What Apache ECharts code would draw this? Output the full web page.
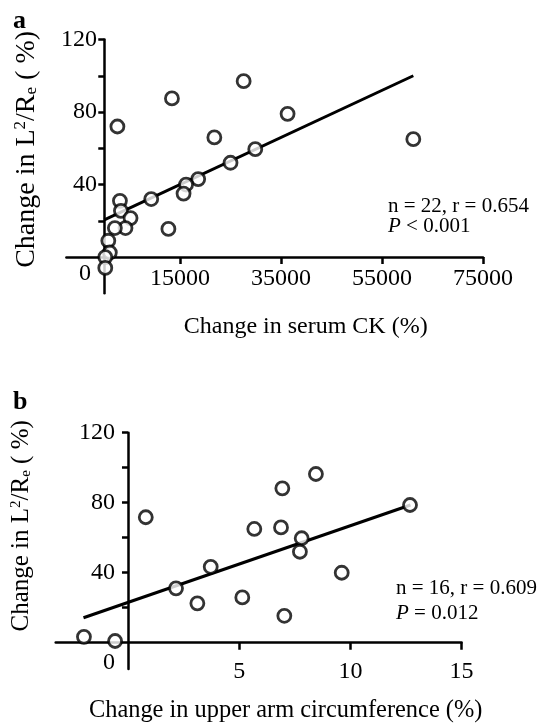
<!DOCTYPE html>
<html>
<head>
<meta charset="utf-8">
<script src="https://cdn.jsdelivr.net/npm/echarts@6/dist/echarts.min.js"></script>
<style>
html,body{margin:0;padding:0;background:#fff;}
#chart{width:539px;height:724px;}
</style>
</head>
<body>
<div id="chart"></div>
<script>
// Panel a: change in serum CK (%) vs change in L2/Re (%)
var ckX = [27600, 13400, 2600, 36300, 21800, 61200, 29900, 25000, 18600, 16200, 15700, 9300, 3100, 3300, 5200, 4200, 2100, 12700, 800, 1100, 200, 200];
var ckY = [97, 87.5, 72, 79, 66, 65, 59.5, 52, 43, 40, 35, 32, 31, 25.5, 21.5, 16, 16, 15.5, 9, 2.5, 0, -6];
var fitAX = [0, 61200];
var fitAY = [20.5, 100];
var ticksAX = [15000, 35000, 55000, 75000];
var ticksAY = [20, 40, 60, 80, 100, 120];
var labelsAY = [0, 40, 80, 120];

// Panel b: change in upper arm circumference (%) vs change in L2/Re (%)
var armX = [-1.98, -0.58, 0.80, 2.16, 3.12, 3.72, 5.14, 5.68, 6.88, 6.94, 7.03, 8.45, 7.81, 7.73, 9.61, 12.68];
var armY = [3.4, 1.0, 71.7, 31.1, 22.5, 43.4, 25.9, 65.0, 65.9, 88.2, 15.4, 96.4, 59.7, 52.0, 40.0, 78.7];
var fitBX = [-2.0, 12.7];
var fitBY = [14.3, 78.7];
var ticksBX = [5, 10, 15];
var ticksBY = [20, 40, 60, 80, 100, 120];
var labelsBY = [0, 40, 80, 120];

var FONT = '"Liberation Serif", "Times New Roman", serif';

function pairs(xs, ys) { return xs.map(function (x, i) { return [x, ys[i]]; }); }

var yName = 'Change in L{sup|2}/R{sub|e} ( %)';
function yNameStyle(size, shift) {
  return {
    fontFamily: FONT, fontSize: size, color: '#000',
    padding: [0, 0, 0, shift],
    rich: {
      sup: { fontFamily: FONT, fontSize: Math.round(size * 0.6), color: '#000', verticalAlign: 'top', lineHeight: size },
      sub: { fontFamily: FONT, fontSize: Math.round(size * 0.6), color: '#000', verticalAlign: 'bottom', lineHeight: size }
    }
  };
}
var axisLineStyle = { color: '#000', width: 2.5 };

function yLabelFmt(v) { return v === 0 ? '{z|0}' : String(v); }
function xLabelFmt(v) { return String(v); }

var option = {
  animation: false,
  backgroundColor: '#fff',
  grid: [
    { left: 66.4, top: 39.5, width: 416.6, height: 253.8, containLabel: false, outerBoundsMode: 'none' },
    { left: 55.7, top: 432.7, width: 405.9, height: 236.3, containLabel: false, outerBoundsMode: 'none' }
  ],
  xAxis: [
    {
      gridIndex: 0, type: 'value', min: -7500, max: 75000,
      splitLine: { show: false },
      axisLine: { onZero: true, lineStyle: axisLineStyle },
      axisTick: { customValues: ticksAX, length: 7, lineStyle: axisLineStyle },
      axisLabel: { customValues: ticksAX, formatter: xLabelFmt, margin: -27, fontFamily: FONT, fontSize: 24, color: '#000' },
      name: 'Change in serum CK (%)', nameLocation: 'middle', nameGap: 21, nameMoveOverlap: false,
      nameTextStyle: { fontFamily: FONT, fontSize: 24, color: '#000', padding: [0, 0, 0, 62] }
    },
    {
      gridIndex: 1, type: 'value', min: -3.25, max: 15,
      splitLine: { show: false },
      axisLine: { onZero: true, lineStyle: axisLineStyle },
      axisTick: { customValues: ticksBX, length: 7, lineStyle: axisLineStyle },
      axisLabel: { customValues: ticksBX, formatter: xLabelFmt, margin: -9, fontFamily: FONT, fontSize: 24, color: '#000' },
      name: 'Change in upper arm circumference (%)', nameLocation: 'middle', nameGap: 30, nameMoveOverlap: false,
      nameTextStyle: { fontFamily: FONT, fontSize: 24.4, color: '#000', padding: [0, 0, 0, 54] }
    }
  ],
  yAxis: [
    {
      gridIndex: 0, type: 'value', min: -20, max: 120,
      splitLine: { show: false },
      axisLine: { onZero: true, lineStyle: axisLineStyle },
      axisTick: { customValues: ticksAY, length: 6, lineStyle: axisLineStyle },
      axisLabel: {
        customValues: labelsAY, margin: -30.6, fontFamily: FONT, fontSize: 24, color: '#000',
        formatter: yLabelFmt,
        rich: { z: { fontFamily: FONT, fontSize: 24, color: '#000', padding: [34, 6, 0, 0] } }
      },
      name: yName, nameLocation: 'middle', nameGap: 26, nameMoveOverlap: false,
      nameTextStyle: yNameStyle(28, 34)
    },
    {
      gridIndex: 1, type: 'value', min: -15, max: 120,
      splitLine: { show: false },
      axisLine: { onZero: true, lineStyle: axisLineStyle },
      axisTick: { customValues: ticksBY, length: 6, lineStyle: axisLineStyle },
      axisLabel: {
        customValues: labelsBY, margin: -59.3, fontFamily: FONT, fontSize: 24, color: '#000',
        formatter: yLabelFmt,
        rich: { z: { fontFamily: FONT, fontSize: 24, color: '#000', padding: [40, 0, 0, 0] } }
      },
      name: yName, nameLocation: 'middle', nameGap: 22, nameMoveOverlap: false,
      nameTextStyle: yNameStyle(25, 50)
    }
  ],
  series: [
    {
      type: 'line', xAxisIndex: 0, yAxisIndex: 0, data: pairs(fitAX, fitAY),
      showSymbol: false, lineStyle: { color: '#000', width: 3 }, z: 2
    },
    {
      type: 'scatter', xAxisIndex: 0, yAxisIndex: 0, data: pairs(ckX, ckY),
      symbol: 'circle', symbolSize: 13,
      itemStyle: { color: '#fff', borderColor: '#000', borderWidth: 2.8 }, z: 3
    },
    {
      type: 'line', xAxisIndex: 1, yAxisIndex: 1, data: pairs(fitBX, fitBY),
      showSymbol: false, lineStyle: { color: '#000', width: 3 }, z: 2
    },
    {
      type: 'scatter', xAxisIndex: 1, yAxisIndex: 1, data: pairs(armX, armY),
      symbol: 'circle', symbolSize: 13,
      itemStyle: { color: '#fff', borderColor: '#000', borderWidth: 2.8 }, z: 3
    }
  ],
  graphic: [
    { type: 'text', left: 13, top: 8, style: { text: 'a', font: 'bold 26px ' + FONT, fill: '#000' } },
    { type: 'text', left: 13, top: 389, style: { text: 'b', font: 'bold 26px ' + FONT, fill: '#000' } },
    { type: 'text', left: 388, top: 196, style: { text: 'n = 22, r = 0.654', font: '21px ' + FONT, fill: '#000' } },
    { type: 'text', left: 388, top: 216, style: { text: '{i|P} < 0.001', font: '21px ' + FONT, fill: '#000',
        rich: { i: { fontStyle: 'italic', fontFamily: FONT, fontSize: 21, fill: '#000' } } } },
    { type: 'text', left: 396, top: 578, style: { text: 'n = 16, r = 0.609', font: '21px ' + FONT, fill: '#000' } },
    { type: 'text', left: 396, top: 603, style: { text: '{i|P} = 0.012', font: '21px ' + FONT, fill: '#000',
        rich: { i: { fontStyle: 'italic', fontFamily: FONT, fontSize: 21, fill: '#000' } } } }
  ]
};

var chart = echarts.init(document.getElementById('chart'), null, { renderer: 'canvas' });
chart.setOption(option);
</script>
</body>
</html>
